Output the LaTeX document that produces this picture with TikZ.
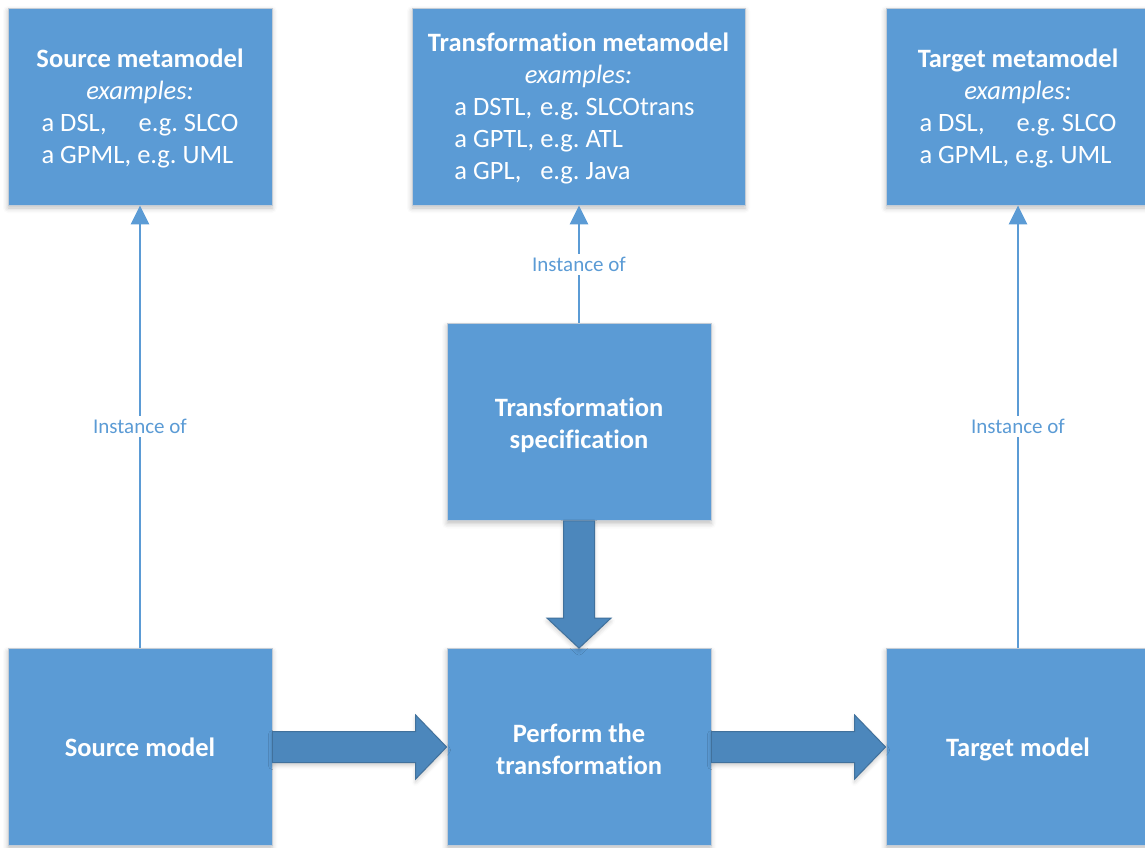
\documentclass[tikz,border=0pt]{standalone}
\usepackage{fontspec}
\setmainfont{Carlito}[Ligatures=NoCommon]
\frenchspacing
\usetikzlibrary{arrows.meta,shadows.blur,calc}
\definecolor{boxblue}{HTML}{5B9BD5}
\definecolor{boxedge}{HTML}{C3CCD6}
\definecolor{arrowfill}{HTML}{4C87BC}
\definecolor{arrowedge}{HTML}{41719C}
\definecolor{linkblue}{HTML}{5B9BD5}
% invisible strut that sets the height of a first line
\newcommand{\padtop}[1]{\rule{0pt}{#1}}
% single line without descender depth
\newcommand{\nodepth}[1]{\raisebox{0pt}[\height][0pt]{#1}}
\tikzset{
  box/.style={rectangle, fill=boxblue, draw=boxedge, line width=0.8pt,
    minimum width=264pt, minimum height=197pt, inner sep=0pt,
    text=white, align=center, font=\fontsize{26.5}{32}\selectfont,
    blur shadow={shadow xshift=0pt, shadow yshift=-3pt,
      shadow blur radius=5pt, shadow opacity=25}},
  link/.style={draw=linkblue, line width=2.5pt,
    -{Triangle[width=18pt,length=19pt]}},
  linklabel/.style={fill=white, text=linkblue,
    font=\fontsize{21}{24}\selectfont, inner sep=3pt},
  blockarrow/.style={fill=arrowfill, draw=arrowedge, line width=1pt,
    line join=miter,
    blur shadow={shadow xshift=0pt, shadow yshift=-3pt,
      shadow blur radius=4pt, shadow opacity=20}}
}
\begin{document}
\begin{tikzpicture}[x=1pt, y=-1pt]
  \useasboundingbox (0,0) rectangle (1145,847);

  % metamodels
  \node[box] (smm) at (140,106.5) {\padtop{27pt}\textbf{Source metamodel}\\
    \textit{examples:}\\
    \begin{tabular}[t]{@{}l@{}}a DSL,\hspace{26pt} e.g. SLCO\\ a GPML, e.g. UML\end{tabular}};
  \node[box, minimum width=333pt] (tmm) at (578.5,106.5) {\padtop{27pt}\textbf{Transformation metamodel}\\
    \textit{examples:}\\
    \begin{tabular}[t]{@{}l@{\ }l@{\hspace{8pt}}}a DSTL, & e.g. SLCOtrans\\ a GPTL, & e.g. ATL\\ a GPL, & e.g. Java\end{tabular}};
  \node[box] (gmm) at (1018,106.5) {\padtop{27pt}\textbf{Target metamodel}\\
    \textit{examples:}\\
    \begin{tabular}[t]{@{}l@{}}a DSL,\hspace{26pt} e.g. SLCO\\ a GPML, e.g. UML\end{tabular}};

  % transformation specification and models
  \node[box] (spec) at (579,422) {\padtop{25pt}\textbf{Transformation}\\ \textbf{specification}};
  \node[box] (sm) at (140,747) {\nodepth{\textbf{Source model}}};
  \node[box] (pf) at (579,747) {\padtop{23pt}\textbf{Perform the}\\ \textbf{transformation}};
  \node[box] (tm) at (1018,747) {\nodepth{\textbf{Target model}}};

  % instance-of relations
  \draw[link] (sm.north) -- node[linklabel] {Instance of} (smm.south);
  \draw[link] (spec.north) -- node[linklabel] {Instance of} (spec.north |- tmm.south);
  \draw[link] (tm.north) -- node[linklabel] {Instance of} (gmm.south);

  % data flow block arrows
  \draw[blockarrow] ($(sm.east)+(0,-15.5)$) -- ($(pf.west)+(-31,-15.5)$)
    -- ($(pf.west)+(-31,-32)$) -- (pf.west) -- ($(pf.west)+(-31,32)$)
    -- ($(pf.west)+(-31,15.5)$) -- ($(sm.east)+(0,15.5)$) -- cycle;
  \draw[blockarrow] ($(pf.east)+(0,-15.5)$) -- ($(tm.west)+(-31,-15.5)$)
    -- ($(tm.west)+(-31,-32)$) -- (tm.west) -- ($(tm.west)+(-31,32)$)
    -- ($(tm.west)+(-31,15.5)$) -- ($(pf.east)+(0,15.5)$) -- cycle;
  \draw[blockarrow] ($(spec.south)+(-15.5,0)$) -- ($(pf.north)+(-15.5,-30)$)
    -- ($(pf.north)+(-32,-30)$) -- (pf.north) -- ($(pf.north)+(32,-30)$)
    -- ($(pf.north)+(15.5,-30)$) -- ($(spec.south)+(15.5,0)$) -- cycle;
\end{tikzpicture}
\end{document}
